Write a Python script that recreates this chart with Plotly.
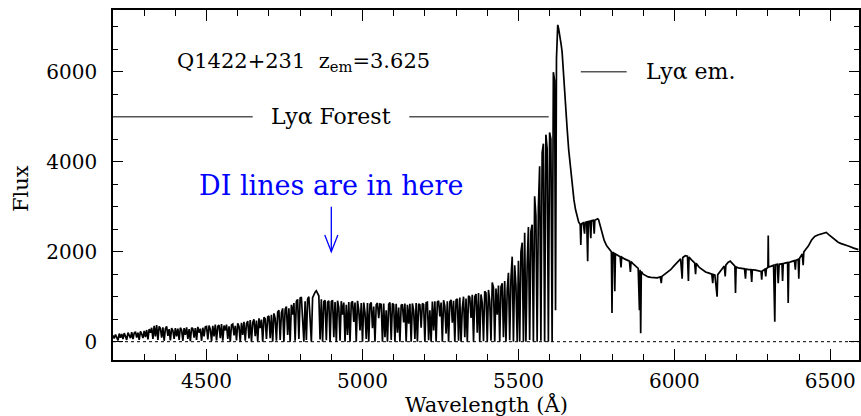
import plotly.graph_objects as go

# ---------------- data ----------------
# Lyman-alpha forest, sampled every 4 A from 4200 A
forest_start = 4200
forest_step = 4
forest_flux = [
    # 4200-4296
    140, 70, 160, 110, 30, 180, 90, 170, 60, 190, 130, 40, 200, 150, 80, 210, 60, 190, 220, 90, 200, 40, 230, 170, 80,
    # 4300-4396
    240, 100, 260, 50, 280, 200, 310, 60, 350, 120, 370, 40, 340, 300, 90, 320, 20, 290, 340, 130, 280, 30, 300, 250, 60,
    # 4400-4496
    300, 120, 290, 40, 310, 260, 20, 300, 150, 320, 60, 280, 10, 310, 290, 90, 300, 40, 330, 200, 290, 20, 310, 120, 330,
    # 4500-4596
    340, 50, 360, 280, 10, 350, 120, 380, 30, 340, 370, 80, 390, 20, 360, 250, 380, 60, 340, 0, 370, 390, 140, 350, 30,
    # 4600-4696
    410, 340, 0, 420, 150, 440, 20, 400, 460, 70, 480, 0, 430, 500, 120, 470, 10, 520, 300, 490, 0, 540, 510, 60, 550,
    # 4700-4796
    570, 80, 600, 0, 630, 520, 20, 660, 700, 40, 640, 740, 0, 720, 780, 150, 740, 0, 820, 600, 860, 20, 900, 940, 60,
    # 4800-4896
    970, 990, 300, 0, 900, 40, 950, 1000, 500, 0, 980, 1050, 1100, 1130, 1080, 1020, 50, 940, 0, 890, 920, 30, 880, 910, 0,
    # 4900-4996
    890, 920, 100, 880, 0, 910, 760, 20, 900, 600, 870, 0, 820, 150, 880, 0, 860, 900, 440, 870, 0, 910, 700, 250, 860,
    # 5000-5096
    0, 870, 640, 60, 860, 0, 830, 870, 300, 780, 0, 820, 860, 520, 840, 830, 0, 850, 100, 700, 0, 830, 870, 40, 850,
    # 5100-5196
    820, 0, 840, 200, 760, 0, 810, 830, 430, 850, 0, 820, 400, 840, 0, 850, 690, 60, 860, 0, 840, 820, 310, 850, 830,
    # 5200-5296
    0, 870, 880, 30, 700, 0, 890, 250, 900, 0, 880, 910, 560, 870, 0, 920, 790, 180, 900, 0, 880, 930, 420, 910, 0,
    # 5300-5396
    930, 950, 20, 980, 0, 740, 1000, 100, 960, 0, 1020, 990, 530, 1040, 0, 1000, 1060, 200, 1080, 0, 1050, 860, 10, 1120, 1080,
    # 5400-5496
    0, 1150, 900, 20, 1315, 1200, 0, 1180, 600, 1250, 0, 1220, 1300, 100, 1350, 0, 1150, 1530, 30, 1400, 1890, 0, 1700, 1250, 10,
    # 5500-5596
    1800, 0, 2000, 2200, 10, 2420, 0, 1700, 2550, 40, 2450, 2600, 0, 3233, 2800, 0, 3000, 3900, 20, 4200, 4400, 0, 4600, 4300, 0,
    # 5600-5616
    4650, 4500, 0, 5990, 5800,
]
forest_wave = [forest_start + forest_step * i for i in range(len(forest_flux))]

# Ly-alpha emission peak and red side (irregular sampling to keep narrow lines)
red_wave = [
    5619, 5622, 5626, 5629, 5633, 5637, 5640, 5645, 5651, 5656,
    5661, 5667, 5672, 5678, 5683, 5688, 5693, 5698, 5700, 5702,
    5708, 5712, 5714, 5719, 5722, 5724, 5729, 5732, 5734, 5740,
    5743, 5745, 5750, 5754, 5757, 5762, 5767, 5775, 5783, 5791,
    5798, 5800, 5802, 5807, 5809, 5811, 5818, 5826, 5829, 5831,
    5840, 5848, 5856, 5859, 5861, 5868, 5876, 5884, 5888, 5890,
    5892, 5894, 5900, 5908, 5916, 5925, 5935, 5945, 5955, 5958,
    5960, 5968, 5978, 5988, 5998, 6006, 6013, 6020, 6025, 6027,
    6035, 6042, 6045, 6047, 6055, 6065, 6068, 6070, 6080, 6090,
    6100, 6109, 6120, 6123, 6125, 6130, 6137, 6139, 6145, 6151,
    6160, 6163, 6165, 6172, 6179, 6187, 6194, 6196, 6198, 6205,
    6215, 6225, 6228, 6230, 6238, 6245, 6248, 6250, 6260, 6270,
    6278, 6280, 6282, 6290, 6293, 6295, 6300, 6301, 6302, 6311,
    6318, 6322, 6324, 6330, 6333, 6336, 6345, 6347, 6349, 6357,
    6363, 6365, 6367, 6375, 6385, 6388, 6390, 6397, 6399, 6401,
    6410, 6413, 6415, 6422, 6429, 6440, 6450, 6460, 6470, 6480,
    6487, 6495, 6505, 6514, 6525, 6535, 6546, 6560, 6575, 6590,
]
red_flux = [
    700, 6300, 7040, 6950, 6800, 6600, 6440, 5850, 5240, 4750,
    4275, 3850, 3456, 3150, 2937, 2780, 2660, 2600, 2150, 2620,
    2640, 2400, 2650, 2660, 1790, 2670, 2680, 2300, 2690, 2700,
    2400, 2700, 2720, 2730, 2710, 2580, 2420, 2250, 2130, 2050,
    2000, 640, 1990, 1960, 1120, 1950, 1920, 1890, 1650, 1880,
    1840, 1820, 1790, 1550, 1780, 1730, 1680, 1630, 700, 1600,
    190, 1560, 1500, 1460, 1440, 1430, 1420, 1420, 1440, 1300,
    1450, 1490, 1540, 1600, 1680, 1740, 1790, 1840, 1400, 1870,
    1910, 1900, 1350, 1880, 1820, 1750, 1500, 1740, 1650, 1590,
    1550, 1530, 1500, 1300, 1495, 1480, 1000, 1490, 1560, 1600,
    1680, 1450, 1700, 1760, 1790, 1720, 1680, 1080, 1660, 1640,
    1630, 1620, 1400, 1615, 1600, 1600, 1330, 1600, 1590, 1570,
    1560, 1380, 1570, 1610, 1450, 1620, 1650, 2357, 1660, 1680,
    1700, 446, 1710, 1720, 1300, 1720, 1730, 1350, 1735, 1750,
    1760, 860, 1760, 1780, 1800, 1600, 1810, 1830, 1400, 1850,
    1950, 1700, 1990, 2060, 2120, 2260, 2340, 2370, 2390, 2410,
    2430, 2380, 2320, 2270, 2210, 2180, 2160, 2120, 2080, 2045,
]

wave = forest_wave + red_wave
flux = forest_flux + red_flux

x_range = [4200, 6592]
y_range = [-407, 7371]

FONT = "DejaVu Serif"

fig = go.Figure()
fig.add_trace(go.Scatter(x=wave, y=flux, mode="lines",
                         line=dict(color="black", width=1.7),
                         hoverinfo="skip", showlegend=False))

shapes = [
    # zero level (dotted)
    dict(type="line", xref="x", yref="y", x0=x_range[0], x1=x_range[1], y0=0, y1=0,
         line=dict(color="black", width=1, dash="dot")),
    # Ly-alpha forest bar
    dict(type="line", xref="x", yref="y", x0=4200, x1=4648, y0=5000, y1=5000,
         line=dict(color="#555555", width=1.5)),
    dict(type="line", xref="x", yref="y", x0=5150, x1=5597, y0=5000, y1=5000,
         line=dict(color="#555555", width=1.5)),
    # Ly-alpha emission marker
    dict(type="line", xref="x", yref="y", x0=5700, x1=5847, y0=6000, y1=6000,
         line=dict(color="#555555", width=1.5)),
    # blue arrow
    dict(type="line", xref="x", yref="y", x0=4900, x1=4900, y0=3000, y1=2000,
         line=dict(color="blue", width=1.3)),
    dict(type="path", xref="x", yref="y",
         path="M 4879 2370 L 4900 2000 L 4921 2370",
         line=dict(color="blue", width=1.3)),
]

annotations = [
    dict(x=4398, y=6216, xref="x", yref="y", xanchor="left", yanchor="middle",
         text="Q1422+231  z<sub>em</sub>=3.625", showarrow=False,
         font=dict(family=FONT, size=21, color="black")),
    dict(x=4899, y=5000, xref="x", yref="y", xanchor="center", yanchor="middle",
         text="Lyα Forest", showarrow=False,
         font=dict(family=FONT, size=22, color="black")),
    dict(x=5901, y=6000, xref="x", yref="y", xanchor="left", yanchor="middle",
         text="Lyα em.", showarrow=False,
         font=dict(family=FONT, size=22, color="black")),
    dict(x=4900, y=3482, xref="x", yref="y", xanchor="center", yanchor="middle",
         text="DI lines are in here", showarrow=False,
         font=dict(family=FONT, size=27, color="blue")),
    # axis titles
    dict(x=0.5, y=-0.128, xref="paper", yref="paper", xanchor="center", yanchor="middle",
         text="Wavelength (Å)", showarrow=False,
         font=dict(family=FONT, size=21, color="black")),
    dict(x=-0.124, y=0.49, xref="paper", yref="paper", xanchor="center", yanchor="middle",
         text="Flux", textangle=-90, showarrow=False,
         font=dict(family=FONT, size=21, color="black")),
]

axis_common = dict(
    showline=True, linecolor="black", linewidth=1.5, mirror="ticks",
    ticks="inside", tickcolor="black", tickwidth=1,
    showgrid=False, zeroline=False,
    tickfont=dict(family=FONT, size=20, color="black"),
)

fig.update_layout(
    width=861, height=416,
    margin=dict(l=113, r=0, t=10, b=56),
    paper_bgcolor="white", plot_bgcolor="white",
    shapes=shapes, annotations=annotations,
    xaxis=dict(range=x_range, tick0=4500, dtick=500, ticklen=11,
               minor=dict(ticks="inside", dtick=100, tick0=4200, ticklen=6,
                          tickcolor="black", tickwidth=1, showgrid=False),
               ticklabelstandoff=2, **axis_common),
    yaxis=dict(range=y_range, tick0=0, dtick=2000, ticklen=10,
               minor=dict(ticks="inside", dtick=500, tick0=0, ticklen=5,
                          tickcolor="black", tickwidth=1, showgrid=False),
               ticklabelstandoff=10, **axis_common),
)

fig.write_html("out.html", config={"displayModeBar": False},
               post_script="document.body.style.margin='0px';document.body.style.padding='0px';")
